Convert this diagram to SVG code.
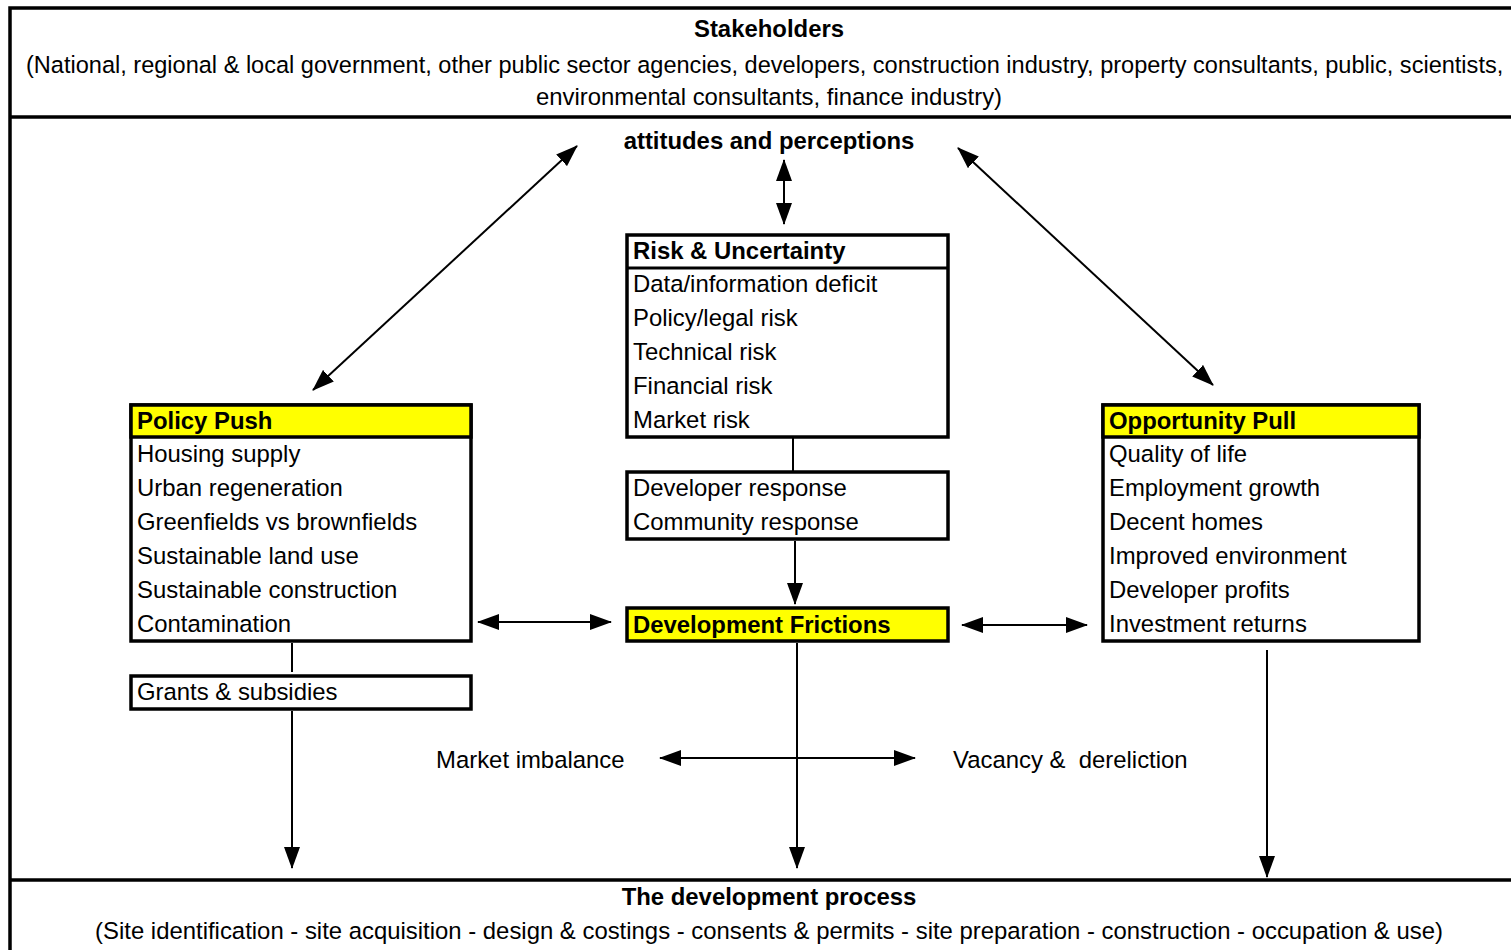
<svg xmlns="http://www.w3.org/2000/svg" width="1511" height="950" viewBox="0 0 1511 950">
<style>
text{font-family:"Liberation Sans",Arial,sans-serif;font-size:23.9px;fill:#000}
.b{font-weight:bold}
.c{text-anchor:middle}
.box{fill:#fff;stroke:#000;stroke-width:3.5}
.hy{fill:#ffff00;stroke:#000;stroke-width:3.5}
.frame{fill:none;stroke:#000;stroke-width:3.5}
.con line{stroke:#000;stroke-width:2}
.a{marker-end:url(#ah)}
.aa{marker-start:url(#ah);marker-end:url(#ah)}
</style>
<defs>
<marker id="ah" markerUnits="userSpaceOnUse" markerWidth="22" markerHeight="16" refX="21" refY="8" orient="auto-start-reverse" viewBox="0 0 22 16">
<path d="M0,0 L22,8 L0,16 z" fill="#000"/>
</marker>
</defs>
<rect width="1511" height="950" fill="#fff"/>
<g id="frame">
<rect class="frame" x="10" y="8" width="1540" height="960"/>
<line x1="10" y1="117" x2="1520" y2="117" stroke="#000" stroke-width="3.5"/>
<line x1="10" y1="880" x2="1520" y2="880" stroke="#000" stroke-width="3.5"/>
</g>
<g id="stakeholders">
<text class="b c" x="769" y="37">Stakeholders</text>
<text x="26" y="73" style="font-size:23.55px">(National, regional &amp; local government, other public sector agencies, developers, construction industry, property consultants, public, scientists,</text>
<text class="c" x="769" y="105">environmental consultants, finance industry)</text>
</g>
<g id="attitudes">
<text class="b c" x="769" y="149">attitudes and perceptions</text>
</g>
<g id="risk">
<rect class="box" x="627" y="235" width="321" height="202"/>
<line x1="627" y1="268" x2="948" y2="268" stroke="#000" stroke-width="3"/>
<text class="b" x="633" y="259">Risk &amp; Uncertainty</text>
<text x="633" y="292">Data/information deficit</text>
<text x="633" y="326">Policy/legal risk</text>
<text x="633" y="360">Technical risk</text>
<text x="633" y="394">Financial risk</text>
<text x="633" y="428">Market risk</text>
</g>
<g id="response">
<rect class="box" x="627" y="472" width="321" height="67"/>
<text x="633" y="496">Developer response</text>
<text x="633" y="530">Community response</text>
</g>
<g id="frictions">
<rect class="hy" x="627" y="608" width="321" height="33"/>
<text class="b" x="633" y="633">Development Frictions</text>
</g>
<g id="policy">
<rect class="box" x="131" y="405" width="340" height="236"/>
<rect class="hy" x="131" y="405" width="340" height="32"/>
<text class="b" x="137" y="429">Policy Push</text>
<text x="137" y="462">Housing supply</text>
<text x="137" y="496">Urban regeneration</text>
<text x="137" y="530">Greenfields vs brownfields</text>
<text x="137" y="564">Sustainable land use</text>
<text x="137" y="598">Sustainable construction</text>
<text x="137" y="632">Contamination</text>
</g>
<g id="grants">
<rect class="box" x="131" y="676" width="340" height="33"/>
<text x="137" y="700">Grants &amp; subsidies</text>
</g>
<g id="opportunity">
<rect class="box" x="1103" y="405" width="316" height="236"/>
<rect class="hy" x="1103" y="405" width="316" height="32"/>
<text class="b" x="1109" y="429">Opportunity Pull</text>
<text x="1109" y="462">Quality of life</text>
<text x="1109" y="496">Employment growth</text>
<text x="1109" y="530">Decent homes</text>
<text x="1109" y="564">Improved environment</text>
<text x="1109" y="598">Developer profits</text>
<text x="1109" y="632">Investment returns</text>
</g>
<g id="market">
<text x="436" y="768">Market imbalance</text>
</g>
<g id="vacancy">
<text x="953" y="768" xml:space="preserve">Vacancy &amp;  dereliction</text>
</g>
<g id="process">
<text class="b c" x="769" y="905">The development process</text>
<text class="c" x="769" y="939">(Site identification - site acquisition - design &amp; costings - consents &amp; permits - site preparation - construction - occupation &amp; use)</text>
</g>
<g class="con" id="connectors">
<line class="aa" x1="577" y1="146" x2="313" y2="390"/>
<line class="aa" x1="958" y1="148" x2="1213" y2="385"/>
<line class="aa" x1="784" y1="160" x2="784" y2="224"/>
<line x1="793" y1="438" x2="793" y2="471"/>
<line class="a" x1="795" y1="541" x2="795" y2="604"/>
<line x1="292" y1="643" x2="292" y2="672"/>
<line class="aa" x1="478" y1="622" x2="611" y2="622"/>
<line class="aa" x1="962" y1="625" x2="1087" y2="625"/>
<line class="aa" x1="660" y1="758" x2="915" y2="758"/>
<line class="a" x1="292" y1="711" x2="292" y2="868"/>
<line class="a" x1="797" y1="643" x2="797" y2="868"/>
<line class="a" x1="1267" y1="650" x2="1267" y2="877"/>
</g>
</svg>
